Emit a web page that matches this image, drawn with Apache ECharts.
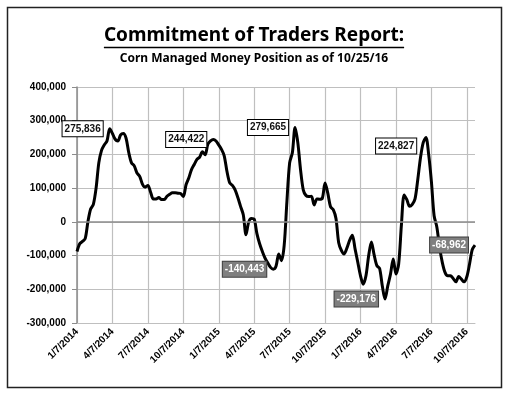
<!DOCTYPE html>
<html>
<head>
<meta charset="utf-8">
<script src="https://cdn.jsdelivr.net/npm/echarts@6/dist/echarts.min.js"></script>
<style>
  html, body { margin: 0; padding: 0; background: #fff; }
  #cot { width: 511px; height: 397px; }
</style>
</head>
<body>
<div id="cot"></div>
<script>
// weekly reports, first one 1/7/2014, last one 10/25/2016
var startDate = new Date(2014, 0, 7);
var weekCount = 147;

// net managed money position (contracts)
var netPosition = [
  -88000, -65000, -58000, -50000, 0, 38000, 52000, 100000, 175000, 212000,
  228000, 240000, 275836, 262000, 245000, 240000, 258000, 262000, 248000, 205000,
  175000, 166000, 145000, 135000, 112000, 103000, 108000, 88000, 68000, 68000,
  72000, 66000, 66000, 76000, 82000, 86000, 86000, 85000, 84000, 75000,
  110000, 130000, 155000, 170000, 185000, 192000, 208000, 199000, 230000, 240000,
  244422, 240000, 228000, 215000, 196000, 150000, 116000, 108000, 95000, 72000,
  46000, 21000, -38000, 0, 10000, 8000, -35000, -65000, -88000, -108000,
  -122000, -135000, -140443, -132000, -95000, -115000, -70000, 60000, 175000, 205000,
  279665, 235000, 155000, 95000, 78000, 75000, 76000, 50000, 68000, 67000,
  70000, 115000, 85000, 45000, 36000, 10000, -62000, -85000, -95000, -78000,
  -55000, -40000, -80000, -120000, -160000, -185000, -160000, -100000, -60000, -98000,
  -130000, -138000, -190000, -229176, -190000, -155000, -110000, -155000, -125000, -10000,
  80000, 66000, 46000, 52000, 68000, 125000, 190000, 235000, 250000, 200000,
  120000, 18000, -15000, -75000, -120000, -150000, -160000, -160000, -168000, -178000,
  -162000, -170000, -178000, -163000, -125000, -82000, -68962
];

// quarterly axis labels, one every 13 weeks
var tickLabels = ['1/7/2014', '4/7/2014', '7/7/2014', '10/7/2014', '1/7/2015', '4/7/2015',
  '7/7/2015', '10/7/2015', '1/7/2016', '4/7/2016', '7/7/2016', '10/7/2016'];
var tickStep = 13;

// callouts on the line
var calloutIndex = [12, 50, 80, 127, 72, 113, 146];
var calloutValue = [275836, 244422, 279665, 224827, -140443, -229176, -68962];

var weeks = [];
for (var w = 0; w < weekCount; w++) {
  var d = new Date(startDate.getTime() + w * 7 * 86400000);
  weeks.push((d.getMonth() + 1) + '/' + d.getDate() + '/' + d.getFullYear());
}

function fmt(v) {
  return v.toLocaleString('en-US');
}

var callouts = calloutIndex.map(function (idx, k) {
  var v = calloutValue[k];
  var neg = v < 0;
  return {
    coord: [idx, v],
    label: {
      show: true,
      position: 'left',
      distance: 7,
      formatter: fmt(v),
      fontFamily: 'Liberation Sans',
      fontWeight: 'bold',
      fontSize: 10,
      color: neg ? '#ffffff' : '#111111',
      backgroundColor: neg ? '#7f7f7f' : '#ffffff',
      borderColor: neg ? '#3f3f3f' : '#000000',
      borderWidth: 1,
      padding: [3, 2, 2, 2]
    }
  };
});

var titleText = 'Commitment of Traders Report:';
var titleFont = 'bold 19px "Noto Sans"';
var ctx = document.createElement('canvas').getContext('2d');
ctx.font = titleFont;
var titleWidth = ctx.measureText(titleText).width;

var chart = echarts.init(document.getElementById('cot'));
chart.setOption({
  animation: false,
  graphic: [
    {
      type: 'rect',
      shape: { x: 7.5, y: 7.5, width: 494, height: 380 },
      style: { fill: 'none', stroke: '#222', lineWidth: 1.5 }
    },
    {
      type: 'text',
      x: 254, y: 45,
      style: {
        text: titleText, font: titleFont, fill: '#000',
        textAlign: 'center', textVerticalAlign: 'bottom'
      }
    },
    {
      type: 'line',
      shape: { x1: 254 - titleWidth / 2, y1: 47.5, x2: 254 + titleWidth / 2, y2: 47.5 },
      style: { stroke: '#000', lineWidth: 1.3 }
    },
    {
      type: 'text',
      x: 254, y: 65,
      style: {
        text: 'Corn Managed Money Position as of 10/25/16',
        font: 'bold 12px "Noto Sans"', fill: '#000',
        textAlign: 'center', textVerticalAlign: 'bottom'
      }
    }
  ],
  grid: { left: 77, right: 36, top: 87, bottom: 74 },
  xAxis: {
    type: 'category',
    data: weeks,
    boundaryGap: false,
    axisLine: { onZero: false, lineStyle: { color: '#bfbfbf', width: 1 } },
    axisTick: { show: false },
    splitLine: {
      show: true,
      interval: function (i) { return i % tickStep === 0; },
      lineStyle: { color: '#bfbfbf', width: 1.2 }
    },
    axisLabel: {
      interval: function (i) { return i % tickStep === 0; },
      formatter: function (val, i) { return tickLabels[i / tickStep] || ''; },
      rotate: 45,
      margin: 7,
      fontFamily: 'Liberation Sans',
      fontWeight: 'bold',
      fontSize: 10,
      color: '#000'
    }
  },
  yAxis: {
    type: 'value',
    min: -300000,
    max: 400000,
    interval: 100000,
    axisLine: { show: true, lineStyle: { color: '#8c8c8c', width: 1.5 } },
    axisTick: { show: true, length: 5, lineStyle: { color: '#8c8c8c' } },
    splitLine: { lineStyle: { color: '#bfbfbf', width: 1.2 } },
    axisLabel: {
      formatter: fmt,
      margin: 11,
      fontFamily: 'Liberation Sans',
      fontWeight: 'bold',
      fontSize: 10,
      color: '#000'
    }
  },
  series: [{
    type: 'line',
    data: netPosition,
    smooth: 0.3,
    showSymbol: false,
    lineStyle: { color: '#000', width: 3 },
    markLine: {
      silent: true,
      symbol: 'none',
      label: { show: false },
      lineStyle: { color: '#8c8c8c', width: 1.5, type: 'solid' },
      data: [{ yAxis: 0 }]
    },
    markPoint: {
      silent: true,
      symbol: 'rect',
      symbolSize: 0,
      data: callouts
    }
  }]
});
</script>
</body>
</html>
